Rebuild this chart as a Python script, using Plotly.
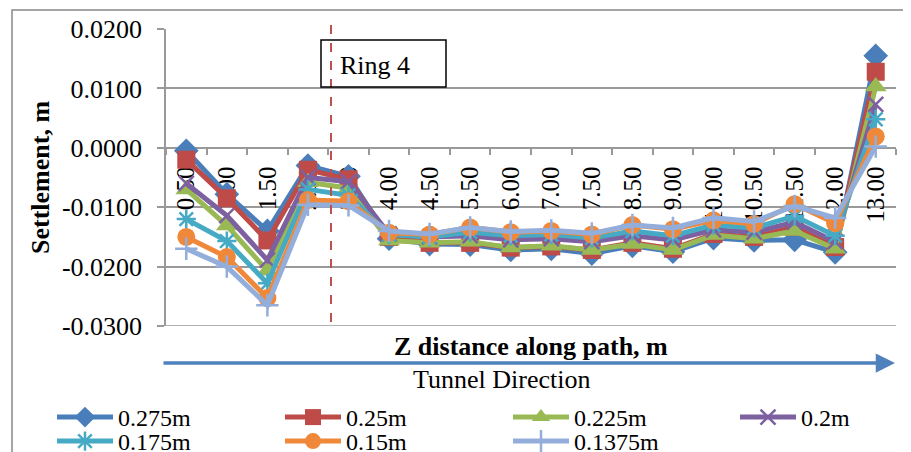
import plotly.graph_objects as go

# ---------------- data ----------------
categories = ["0.50", "1.00", "1.50", "2.50", "3.00", "4.00", "4.50", "5.50", "6.00",
              "7.00", "7.50", "8.50", "9.00", "10.00", "10.50", "11.50", "12.00", "13.00"]

series_names = ["0.275m", "0.25m", "0.225m", "0.2m", "0.175m", "0.15m", "0.1375m"]

s_0275 = [-0.0005, -0.0078, -0.0140, -0.0030, -0.0048, -0.0153, -0.0162, -0.0163, -0.0172,
          -0.0170, -0.0178, -0.0165, -0.0175, -0.0152, -0.0156, -0.0155, -0.0176, 0.0155]
s_025 = [-0.0020, -0.0085, -0.0156, -0.0037, -0.0053, -0.0150, -0.0160, -0.0160, -0.0168,
         -0.0166, -0.0172, -0.0160, -0.0170, -0.0145, -0.0150, -0.0133, -0.0167, 0.0128]
s_0225 = [-0.0070, -0.0131, -0.0207, -0.0058, -0.0068, -0.0156, -0.0160, -0.0158, -0.0168,
          -0.0165, -0.0172, -0.0162, -0.0172, -0.0147, -0.0153, -0.0140, -0.0170, 0.0103]
s_02 = [-0.0060, -0.0114, -0.0189, -0.0050, -0.0057, -0.0145, -0.0150, -0.0148, -0.0155,
        -0.0153, -0.0158, -0.0148, -0.0155, -0.0138, -0.0142, -0.0125, -0.0158, 0.0073]
s_0175 = [-0.0120, -0.0157, -0.0228, -0.0070, -0.0080, -0.0146, -0.0150, -0.0142, -0.0148,
          -0.0146, -0.0152, -0.0140, -0.0148, -0.0130, -0.0135, -0.0115, -0.0148, 0.0048]
s_015 = [-0.0150, -0.0184, -0.0253, -0.0088, -0.0090, -0.0143, -0.0146, -0.0134, -0.0142,
         -0.0140, -0.0146, -0.0130, -0.0137, -0.0122, -0.0128, -0.0095, -0.0127, 0.0019]
s_01375 = [-0.0170, -0.0200, -0.0265, -0.0096, -0.0097, -0.0140, -0.0145, -0.0134, -0.0141,
           -0.0139, -0.0144, -0.0130, -0.0135, -0.0118, -0.0124, -0.0098, -0.0118, 0.0002]

y_tick_vals = [0.02, 0.01, 0.0, -0.01, -0.02, -0.03]
y_tick_text = ["0.0200", "0.0100", "0.0000", "-0.0100", "-0.0200", "-0.0300"]

# ---------------- styling ----------------
OFF = 8                      # page body margin of the html page
W, H = 911 - OFF, 452 - OFF  # figure size so it fits the window exactly
# plot area in page pixels: x 166..896, y 29..326
L, T = 166 - OFF, 29 - OFF
R = W - (896 - OFF)
B = H - (326 - OFF)
PW, PH = W - L - R, H - T - B
FONT = "Liberation Serif"
GRID = "#999999"


def px_x(p):
    """page pixel x -> paper coordinate"""
    return (p - OFF - L) / PW


def px_y(p):
    """page pixel y -> paper coordinate"""
    return (H - B - (p - OFF)) / PH


colors = ["#4A7EBB", "#BE4B48", "#98B954", "#7D60A0", "#46AAC5", "#F0883A", "#93AEDA"]
symbols = ["diamond", "square", "triangle-up", "x-thin-open", "asterisk-open", "circle", "cross-thin-open"]
sizes = [19, 18, 19, 15, 16, 18, 16]
all_series = [s_0275, s_025, s_0225, s_02, s_0175, s_015, s_01375]

# one legend box per entry: 4 columns x 2 rows, like the original
col_x = [52, 280, 508, 735]
row_top = [395, 419]
legend_ids = ["legend" if i == 0 else f"legend{i + 1}" for i in range(len(series_names))]

fig = go.Figure()
for name, vals, c, sym, sz, lg in zip(series_names, all_series, colors, symbols, sizes, legend_ids):
    open_sym = sym.endswith("open")
    fig.add_trace(go.Scatter(
        x=categories, y=vals, name=name, mode="lines+markers", legend=lg,
        line=dict(color=c, width=5),
        marker=dict(symbol=sym, size=sz, color=c,
                    line=dict(color=c, width=2.5 if open_sym else 0)),
    ))

legend_style = dict(orientation="v", yanchor="top", xanchor="left",
                    font=dict(size=24, family=FONT), tracegroupgap=0, itemwidth=56,
                    bgcolor="rgba(0,0,0,0)", borderwidth=0)
legend_layout = {}
for i, lg in enumerate(legend_ids):
    legend_layout[lg] = dict(x=px_x(col_x[i % 4]), y=px_y(row_top[i // 4]), **legend_style)

fig.update_layout(
    width=W, height=H,
    margin=dict(l=L, r=R, t=T, b=B, autoexpand=False),
    paper_bgcolor="white", plot_bgcolor="white",
    font=dict(family=FONT, size=24, color="black"),
    showlegend=True,
    xaxis=dict(type="category", anchor="free", position=0.6, range=[-0.5, 17.5],
               showgrid=False, showline=True, linecolor=GRID, linewidth=1.5,
               ticks="outside", ticklen=6, tickcolor=GRID, tickwidth=1.5,
               tickson="boundaries", tickangle=-90, ticklabelstandoff=8,
               tickfont=dict(size=25, family=FONT), layer="below traces", zeroline=False),
    yaxis=dict(range=[-0.03, 0.02], tickvals=y_tick_vals, ticktext=y_tick_text,
               showgrid=True, gridcolor=GRID, gridwidth=1.5, zeroline=False,
               showline=True, linecolor=GRID, linewidth=1.5,
               ticks="outside", ticklen=7, tickcolor=GRID, tickwidth=1.5,
               ticklabelstandoff=10, tickfont=dict(size=26, family=FONT),
               layer="below traces"),
    **legend_layout,
)

# outer chart border
fig.add_shape(type="rect", xref="paper", yref="paper",
              x0=px_x(12), x1=px_x(930), y0=px_y(10), y1=px_y(480),
              line=dict(color="#888888", width=1.5), layer="below")

# bottom gridline (range edge)
fig.add_shape(type="line", xref="paper", yref="y", x0=0, x1=1, y0=-0.03, y1=-0.03,
              line=dict(color=GRID, width=1.5), layer="below")

# Ring 4 dashed marker line
fig.add_shape(type="line", xref="paper", yref="paper",
              x0=px_x(331), x1=px_x(331), y0=px_y(25), y1=px_y(328),
              line=dict(color="#C0504D", width=2, dash="dash"))
# Ring 4 box
fig.add_shape(type="rect", xref="paper", yref="paper",
              x0=px_x(321), x1=px_x(446), y0=px_y(40), y1=px_y(87),
              line=dict(color="black", width=1.5))
fig.add_annotation(xref="paper", yref="paper", x=px_x(338), y=px_y(65),
                   xanchor="left", yanchor="middle", text="Ring 4", showarrow=False,
                   font=dict(size=26, family=FONT))

# Axis titles
fig.add_annotation(xref="paper", yref="paper", x=px_x(40), y=px_y(177),
                   text="<b>Settlement, m</b>", textangle=-90, showarrow=False,
                   xanchor="center", yanchor="middle", font=dict(size=26, family=FONT))
fig.add_annotation(xref="paper", yref="paper", x=px_x(531), y=px_y(346),
                   text="<b>Z distance along path, m</b>", showarrow=False,
                   xanchor="center", yanchor="middle", font=dict(size=26, family=FONT))
fig.add_annotation(xref="paper", yref="paper", x=px_x(501), y=px_y(379),
                   text="Tunnel Direction", showarrow=False,
                   xanchor="center", yanchor="middle", font=dict(size=26, family=FONT))

# Tunnel direction arrow
fig.add_annotation(xref="paper", yref="paper", x=px_x(895), y=px_y(363),
                   ax=-(895 - 162), ay=0, axref="pixel", ayref="pixel",
                   text="", showarrow=True, arrowhead=2, arrowsize=1.1,
                   arrowwidth=3.5, arrowcolor="#4F81BD")

fig.write_html("out.html")
